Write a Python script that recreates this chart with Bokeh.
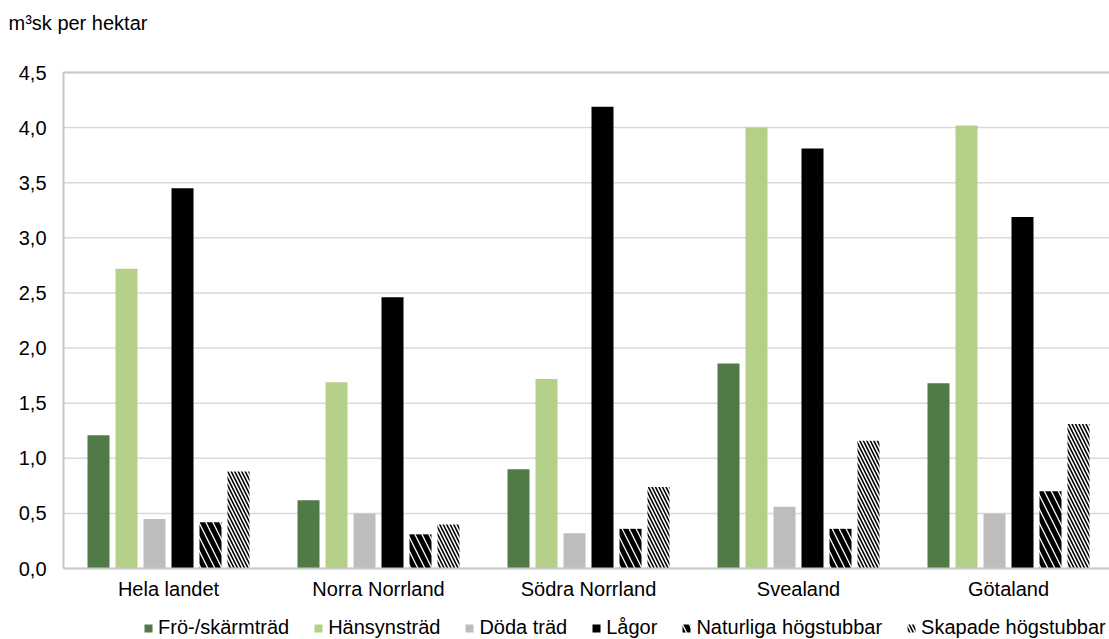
from bokeh.plotting import figure
from bokeh.models import ColumnDataSource, Range1d, Legend, LegendItem, Label
from bokeh.core.properties import value
from bokeh.transform import dodge
from bokeh.embed import file_html
from bokeh.resources import INLINE

regions = ["Hela landet", "Norra Norrland", "Södra Norrland", "Svealand", "Götaland"]
series = ["Frö-/skärmträd", "Hänsynsträd", "Döda träd", "Lågor",
          "Naturliga högstubbar", "Skapade högstubbar"]
fro = [1.21, 0.62, 0.90, 1.86, 1.68]
hansyn = [2.72, 1.69, 1.72, 4.00, 4.02]
doda = [0.45, 0.50, 0.32, 0.56, 0.50]
lagor = [3.45, 2.46, 4.19, 3.81, 3.19]
naturliga = [0.42, 0.31, 0.36, 0.36, 0.70]
skapade = [0.88, 0.40, 0.74, 1.16, 1.31]
y_ticks = [0.0, 0.5, 1.0, 1.5, 2.0, 2.5, 3.0, 3.5, 4.0, 4.5]
y_tick_labels = ["0,0", "0,5", "1,0", "1,5", "2,0", "2,5", "3,0", "3,5", "4,0", "4,5"]
unit_label = "m³sk per hektar"

FONT = "Liberation Sans"
values = [fro, hansyn, doda, lagor, naturliga, skapade]
keys = ["fro", "hansyn", "doda", "lagor", "naturliga", "skapade"]
data = {"xc": [i + 0.5 for i in range(len(regions))], "name": regions,
        "base": [y_ticks[0]] * len(regions)}
for k, v in zip(keys, values):
    data[k] = v
src = ColumnDataSource(data)

# layout in pixels (the frame fills the whole canvas; the plot area starts at LEFT/TOP)
W, H = 1109, 639
LEFT, TOP = 63, 72
PLOT_BOTTOM = 568          # pixel row of value 0
GROUP_PX = 210
px_per_unit = (PLOT_BOTTOM - TOP) / (y_ticks[-1] - y_ticks[0])
y_start = y_ticks[0] - (H - PLOT_BOTTOM) / px_per_unit
y_end = y_ticks[-1] + TOP / px_per_unit
x0 = 0.0
x_start = x0 - LEFT / GROUP_PX
x_end = x0 + (W - LEFT) / GROUP_PX

p = figure(width=W, height=H, output_backend="svg", toolbar_location=None,
           x_range=Range1d(x_start, x_end), y_range=Range1d(y_start, y_end),
           min_border=0)
p.xaxis.visible = False
p.yaxis.visible = False
p.xgrid.grid_line_color = None
p.ygrid.grid_line_color = None
p.outline_line_color = None

# gridlines
n = len(y_ticks)
p.segment(x0=[x0] * n, y0=y_ticks, x1=[x_end] * n, y1=y_ticks,
          line_color="#d9d9d9", line_width=1.5)

styles = [
    dict(fill_color="#507a46"),
    dict(fill_color="#b4cf88"),
    dict(fill_color="#bdbdbd"),
    dict(fill_color="#000000"),
    dict(fill_color="#ffffff", hatch_pattern="left_diagonal_line", hatch_color="black",
         hatch_weight=5, hatch_scale=14),
    dict(fill_color="#ffffff", hatch_pattern="left_diagonal_line", hatch_color="black",
         hatch_weight=1.6, hatch_scale=7),
]
bw = 22 / GROUP_PX
step = 28 / GROUP_PX
items = []
for i, (k, name, st) in enumerate(zip(keys, series, styles)):
    r = p.vbar(x=dodge("xc", (i - 2.5) * step, range=p.x_range), top=k, bottom="base",
               width=bw, source=src, line_color=None, **st)
    items.append(LegendItem(label=name, renderers=[r]))

# plot-area border (left, top) and baseline
p.segment(x0=[x0], y0=[y_ticks[0]], x1=[x0], y1=[y_ticks[-1]],
          line_color="#c8c8c8", line_width=2)
p.segment(x0=[x0], y0=[y_ticks[-1]], x1=[x_end], y1=[y_ticks[-1]],
          line_color="#c8c8c8", line_width=2)
p.segment(x0=[x0], y0=[y_ticks[0]], x1=[x_end], y1=[y_ticks[0]],
          line_color="#c8c8c8", line_width=2)

# y tick labels
p.text(x=[x0] * n, y=y_ticks, text=y_tick_labels, x_offset=-17,
       text_align="right", text_baseline="middle",
       text_font=value(FONT), text_font_size="20px", text_color="#000000")

# category labels under the baseline
p.text(x="xc", y="base", text="name", source=src, y_offset=20,
       text_align="center", text_baseline="alphabetic",
       text_font=value(FONT), text_font_size="20px", text_color="#000000")

# unit label
p.add_layout(Label(x=8, y=H - 22, x_units="screen", y_units="screen", text=unit_label,
                   text_baseline="middle", text_align="left",
                   text_font=FONT, text_font_size="20px", text_color="#000000"))

legend = Legend(items=items, orientation="horizontal", location=(LEFT + 80, 0),
                padding=0, margin=0, spacing=24, label_standoff=5,
                glyph_width=10, glyph_height=10, label_height=20,
                label_text_font=FONT, label_text_font_size="20px",
                label_text_color="#000000",
                border_line_alpha=0, background_fill_alpha=0)
p.add_layout(legend)

html = file_html(p, INLINE)
html = html.replace("</head>", "<style>html,body{overflow:hidden}</style></head>")
open("out.html", "w").write(html)
